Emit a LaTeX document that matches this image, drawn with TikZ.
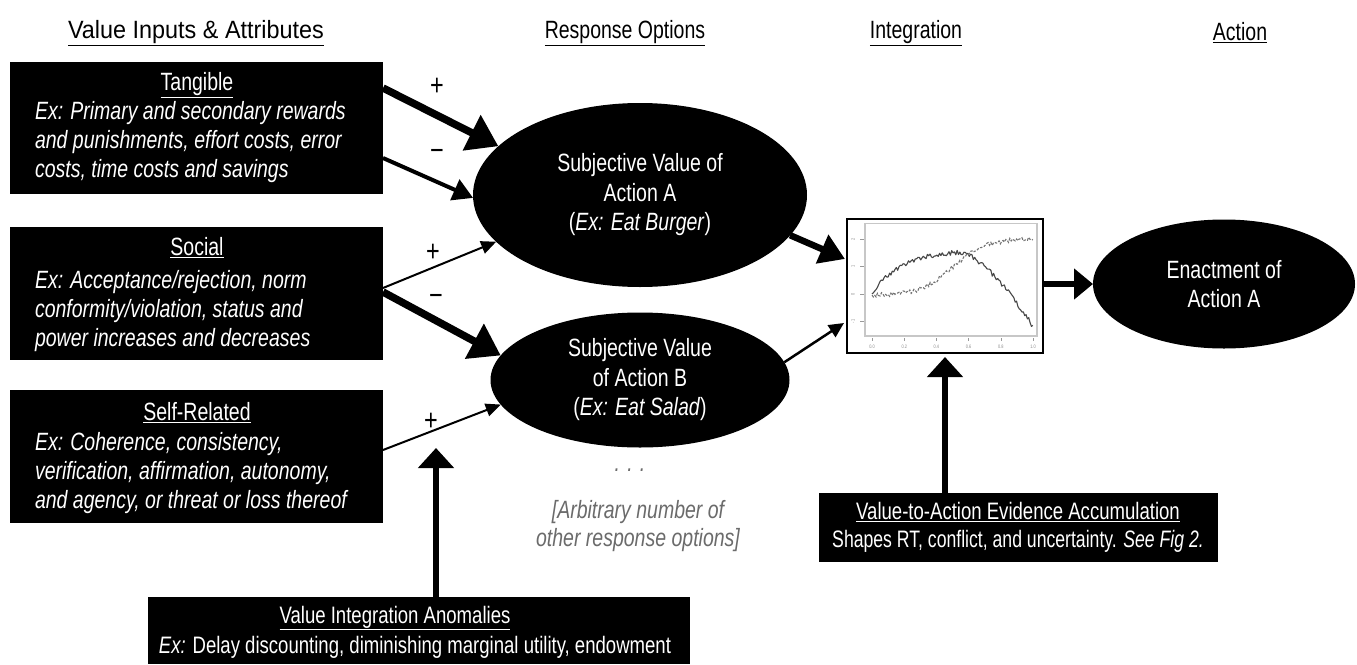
\documentclass[tikz,border=0pt]{standalone}
\usepackage{fontspec}
\usepackage{graphicx}
\setmainfont{Liberation Sans}[FakeStretch=0.78]
\usetikzlibrary{arrows.meta,shapes.geometric,calc}
\begin{document}
\begin{tikzpicture}[x=1pt,y=-1pt,
  declare function={sol(\t)=(\t<0.55)*1.6*(1-exp(-\t/0.18))+(\t>=0.55)*(1.52-2.7*(max(\t-0.55,0.0001)/0.45)^1.5);
                    dsh(\t)=-0.05+2.05/(1+exp(-(\t-0.5)/0.1));},
  every node/.style={inner sep=0pt, outer sep=0pt},
  txt/.style={font=\fontsize{25}{29}\selectfont},
  hdr/.style={txt},
  blackbox/.style={fill=black, draw=none, rectangle, anchor=north west},
  wtitle/.style={txt, text=white},
  wsmall/.style={font=\fontsize{23.8}{28}\selectfont, text=white},
  wbody/.style={font=\fontsize{25}{28.8}\selectfont\itshape, text=white, align=left, anchor=west},
  ell/.style={ellipse, fill=black, text=white, align=center, font=\fontsize{25}{29.5}\selectfont},
  sign/.style={font=\fontsize{30}{30}\selectfont},
  grey/.style={font=\fontsize{25}{28}\selectfont\itshape, text=black!58, align=center},
  thickarr/.style={line width=7.5pt, -{Triangle[length=30pt,width=38pt]}},
  medarr/.style={line width=4pt, -{Triangle[length=20pt,width=22pt]}},
  thinarr/.style={line width=2pt, -{Triangle[length=15pt,width=13pt]}},
  uparr/.style={line width=5.5pt, -{Triangle[length=20pt,width=35pt]}},
  tiny/.style={font=\fontsize{5}{6}\selectfont, text=black!45}
]
\useasboundingbox (0,0) rectangle (1357,664);
\fill[white] (0,0) rectangle (1357,664);

% headers
\node[hdr] (h1) at (196,33) {\scalebox{1.2}[1]{\underline{Value Inputs \& Attributes}}};
\node[hdr] (h2) at (625,33) {\underline{Response Options}};
\node[hdr] (h3) at (916,33) {\underline{Integration}};
\node[hdr] (h4) at (1240,33) {\underline{Action}};

% input boxes
\node[blackbox, minimum width=373pt, minimum height=132pt] (tang) at (10,62) {};
\node[wtitle] (tangT) at (197,85) {\underline{Tangible}};
\node[wbody] (tangB) at (35,142) {Ex: Primary and secondary rewards\\and punishments, effort costs, error\\costs, time costs and savings};

\node[blackbox, minimum width=373pt, minimum height=133pt] (soc) at (10,227) {};
\node[wtitle] (socT) at (197,248) {\underline{Social}};
\node[wbody] (socB) at (35,311) {Ex: Acceptance/rejection, norm\\conformity/violation, status and\\power increases and decreases};

\node[blackbox, minimum width=373pt, minimum height=133pt] (self) at (10,390) {};
\node[wtitle] (selfT) at (197,413) {\underline{Self-Related}};
\node[wbody] (selfB) at (35,473) {Ex: Coherence, consistency,\\verification, affirmation, autonomy,\\and agency, or threat or loss thereof};

% response ellipses
\node[ell, minimum width=334pt, minimum height=184pt] (A) at (640,195) {Subjective Value of\\Action A\\(\textit{Ex: Eat Burger})};
\node[ell, minimum width=299pt, minimum height=135pt] (B) at (640,380) {Subjective Value\\of Action B\\(\textit{Ex: Eat Salad})};
\node[grey] (dots) at (630,470) {. . .};
\node[grey] (other) at (638,526) {[Arbitrary number of\\other response options]};

% graph
\node[draw=black, line width=1.3pt, rectangle, anchor=north west, minimum width=196pt, minimum height=134pt] (graph) at (847,219) {};
\begin{scope}[shift={(872,294)}, x=161pt, y=27.5pt]
  \draw[black!22, line width=1.2pt] (-0.043,2.55) rectangle (1.025,-1.53);
  \foreach \t/\l in {0/0.0,0.2/0.2,0.4/0.4,0.6/0.6,0.8/0.8,1/1.0}{
    \draw[black!40, line width=0.5pt] (\t,-1.6) -- (\t,-1.72);
    \node[tiny] at (\t,-1.93) {\l};
  }
  \foreach \v in {-1,0,1,2}{
    \draw[black!40, line width=0.5pt] (-0.05,\v) -- (-0.075,\v);
    \node[tiny, rotate=90] at (-0.118,\v) {\v};
  }
  \pgfmathsetseed{11}
  \draw[black!72, line width=1.1pt, line join=round] plot[domain=0:1, samples=120] (\x,{sol(\x)+0.09*rand});
  \pgfmathsetseed{5}
  \draw[black!55, line width=1.1pt, dash pattern=on 2.5pt off 1.5pt] plot[domain=0:1, samples=120] (\x,{dsh(\x)+0.08*rand});
\end{scope}

% action ellipse
\node[ell, minimum width=262pt, minimum height=129pt] (enact) at (1224,284) {Enactment of\\Action A};

% bottom boxes
\node[blackbox, minimum width=399pt, minimum height=69pt] (evid) at (819,493) {};
\node[wsmall] (evidT) at (1018,512) {\underline{Value-to-Action Evidence Accumulation}};
\node[wsmall] (evidB) at (1018,541) {\scalebox{0.95}[1]{Shapes RT, conflict, and uncertainty. \textit{See Fig 2.}}};

\node[blackbox, minimum width=542pt, minimum height=67pt] (anom) at (148,597) {};
\node[wsmall] (anomT) at (395,618) {\underline{Value Integration Anomalies}};
\node[wsmall] (anomB) at (415,647) {\textit{Ex:} Delay discounting, diminishing marginal utility, endowment};

% connectors
\draw[thickarr] ([yshift=-26pt]tang.north east) -- (A.161.9);
\draw[medarr] ([yshift=-96pt]tang.north east) -- (A.181);
\draw[thinarr] ([yshift=-61pt]soc.north east) -- (A.198.7);
\draw[thickarr] ([yshift=-65pt]soc.north east) -- (B.170);
\draw[thinarr] ([yshift=-60pt]self.north east) -- (B.190);

\draw[line width=6.5pt, -{Triangle[length=25pt,width=30pt]}] (A.345.4) -- ([xshift=-2pt,yshift=-40pt]graph.north west);
\draw[line width=2.5pt, -{Triangle[length=15pt,width=14pt]}] (B.7) -- ([xshift=-3pt,yshift=-104pt]graph.north west);
\draw[line width=6pt, -{Triangle[length=19pt,width=30pt]}] (graph.east |- enact.west) -- (enact.west);

\draw[uparr] (graph.south |- evid.north) -- ([yshift=-4pt]graph.south);
\coordinate (anomtip) at (436,448);
\draw[uparr] ([xshift=17pt]anom.north) -- (anomtip);

% signs
\node[sign] (s1) at (437,87) {+};
\node[sign] (s2) at (437,155) {−};
\node[sign] (s3) at (433,253) {+};
\node[sign] (s4) at (436,300) {−};
\node[sign] (s5) at (431,422) {+};
\end{tikzpicture}
\end{document}
